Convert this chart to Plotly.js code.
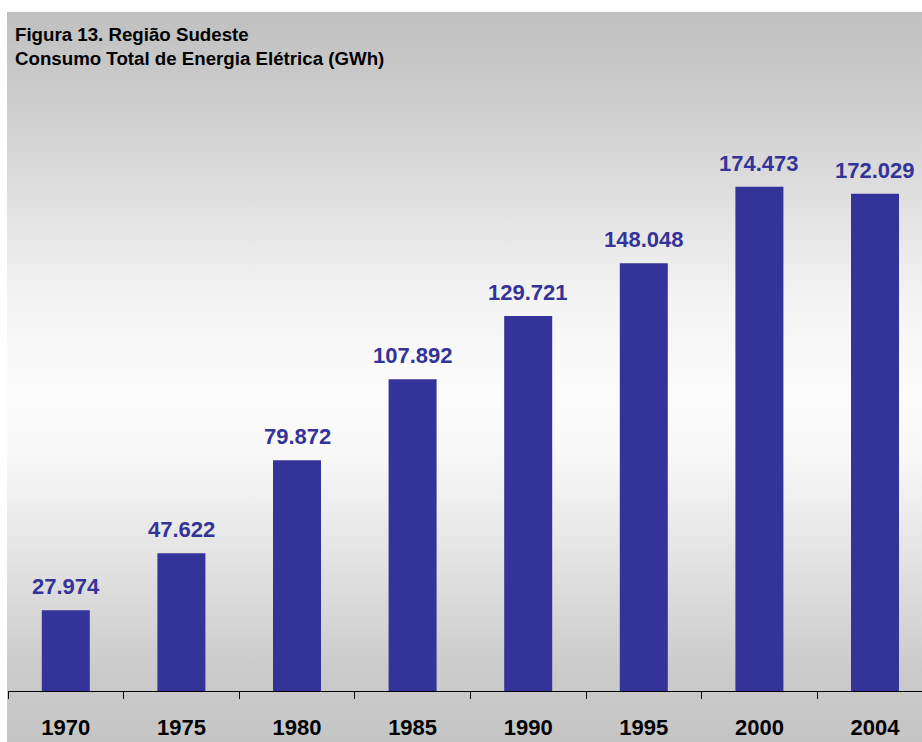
<!DOCTYPE html>
<html>
<head>
<meta charset="utf-8">
<script src="https://cdn.plot.ly/plotly-3.0.1.min.js"></script>
<style>html,body{margin:0;padding:0;background:#fff;}#chart{width:922px;height:742px;}</style>
</head>
<body>
<div id="chart"></div>
<script>
const years = ['1970','1975','1980','1985','1990','1995','2000','2004'];
const consumoGWh = [27974, 47622, 79872, 107892, 129721, 148048, 174473, 172029];
const titleLines = ['Figura 13. Região Sudeste', 'Consumo Total de Energia Elétrica (GWh)'];

function fmtBR(v) {
  return String(v).replace(/\B(?=(\d{3})+(?!\d))/g, '.');
}

const FONT = 'Liberation Sans, Arial, Helvetica, sans-serif';
const BLUE = '#333399';

const W = 922, H = 742;
const L = 8, R = 0, B = 51;
const pxPerUnit = 504 / 174473;
const yMax = 200000;
const plotH = yMax * pxPerUnit;
const T = H - B - plotH;
const plotW = W - L - R;
const catSpacing = 115.6;

const gradSvg = '<svg xmlns="http://www.w3.org/2000/svg" width="100" height="100" preserveAspectRatio="none">' +
  '<defs><linearGradient id="g" x1="0" y1="0" x2="0" y2="1">' +
  '<stop offset="0" stop-color="#c0c0c0"/>' +
  '<stop offset="0.11" stop-color="#cbcbcb"/>' +
  '<stop offset="0.39" stop-color="#f3f3f3"/>' +
  '<stop offset="0.52" stop-color="#fcfcfc"/>' +
  '<stop offset="0.60" stop-color="#f9f9f9"/>' +
  '<stop offset="0.75" stop-color="#e3e3e3"/>' +
  '<stop offset="0.90" stop-color="#cbcbcb"/>' +
  '<stop offset="1" stop-color="#c5c5c5"/>' +
  '</linearGradient></defs><rect x="0" y="0" width="100" height="100" fill="url(#g)"/></svg>';
const gradURI = 'data:image/svg+xml;base64,' + btoa(gradSvg);

const bgTopPx = 12, bgLeftPx = 7;
const imgY = (H - B - bgTopPx) / plotH;
const imgSizeY = (H - bgTopPx) / plotH;
const imgX = (bgLeftPx - L) / plotW;
const imgSizeX = (W - bgLeftPx) / plotW;

const trace = {
  type: 'bar',
  x: years,
  y: consumoGWh,
  marker: {color: BLUE, line: {width: 0}},
  hoverinfo: 'skip'
};

const annotations = years.map((yr, i) => ({
  x: i, y: consumoGWh[i], xref: 'x', yref: 'y',
  text: '<b>' + fmtBR(consumoGWh[i]) + '</b>',
  showarrow: false, yanchor: 'bottom', xanchor: 'center', yshift: 9,
  font: {family: FONT, size: 22, color: BLUE}
}));

annotations.push({
  xref: 'paper', yref: 'paper',
  x: (13 - L) / plotW, y: (H - B - 22) / plotH,
  xanchor: 'left', yanchor: 'top', align: 'left', showarrow: false,
  text: '<b>' + titleLines[0] + '</b><br><b>' + titleLines[1] + '</b>',
  font: {family: FONT, size: 18.7, color: '#000000'}
});

const layout = {
  width: W, height: H,
  margin: {l: L, r: R, t: T, b: B, pad: 0},
  paper_bgcolor: '#ffffff',
  plot_bgcolor: 'rgba(0,0,0,0)',
  showlegend: false,
  bargap: 1 - 48 / catSpacing,
  font: {family: FONT},
  xaxis: {
    type: 'category',
    range: [-0.5, -0.5 + plotW / catSpacing],
    showline: true, linecolor: '#000000', linewidth: 1,
    ticks: 'outside', tickson: 'boundaries', ticklen: 7, tickwidth: 1, tickcolor: '#000000',
    ticklabelstandoff: 17,
    tickfont: {family: FONT, size: 22, color: '#000000', weight: 'bold'},
    showgrid: false, zeroline: false, fixedrange: true
  },
  yaxis: {
    range: [0, yMax], showticklabels: false, ticks: '', showline: false,
    showgrid: false, zeroline: false, fixedrange: true
  },
  images: [{
    source: gradURI, xref: 'paper', yref: 'paper',
    x: imgX, y: imgY, sizex: imgSizeX, sizey: imgSizeY,
    xanchor: 'left', yanchor: 'top', sizing: 'stretch', layer: 'below'
  }],
  annotations: annotations
};

Plotly.newPlot('chart', [trace], layout, {displayModeBar: false, staticPlot: true});
</script>
</body>
</html>
